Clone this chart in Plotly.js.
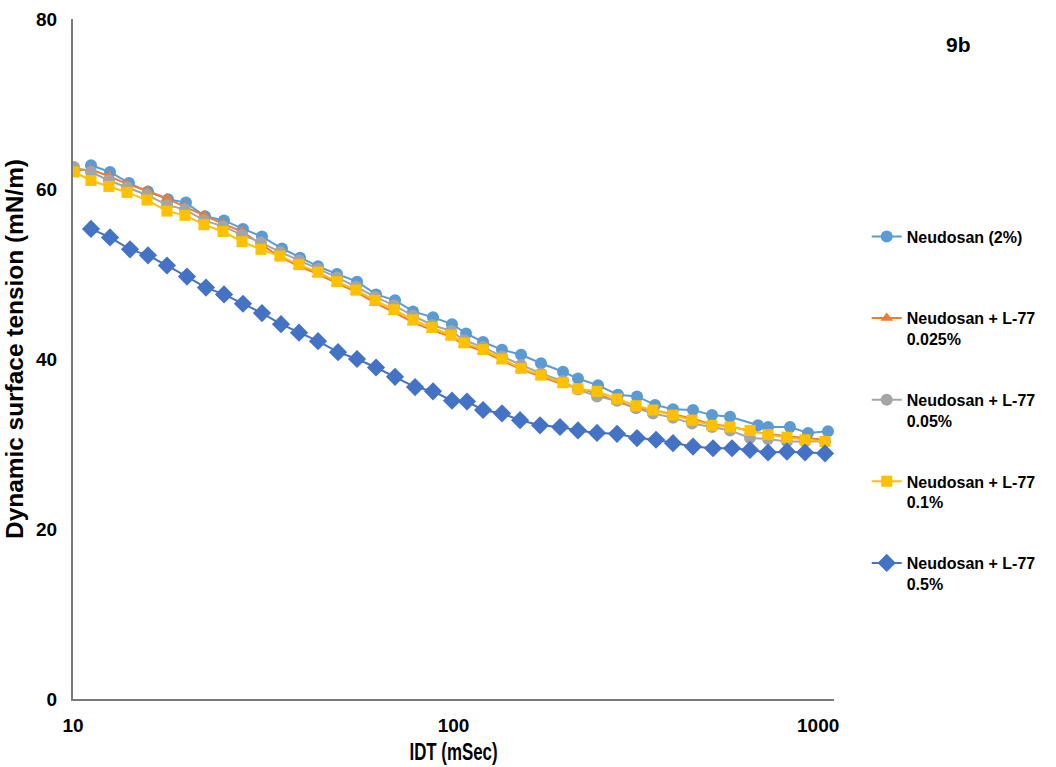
<!DOCTYPE html>
<html>
<head>
<meta charset="utf-8">
<script src="https://cdn.plot.ly/plotly-3.0.1.min.js"></script>
<style>
  html, body { margin: 0; padding: 0; background: #ffffff; }
  #chart { width: 1056px; height: 767px; }
</style>
</head>
<body>
<div id="chart"></div>
<script>
// Dynamic surface tension vs. interface age (IDT), log time axis

// Series names (the first entry keeps a blank second line so every legend row has the same height)
const seriesNames = [
  "Neudosan (2%)<br>\u00a0",
  "Neudosan + L-77<br>0.025%",
  "Neudosan + L-77<br>0.05%",
  "Neudosan + L-77<br>0.1%",
  "Neudosan + L-77<br>0.5%"
];

// IDT (ms) sampling used by the 0.025%, 0.05% and 0.1% runs
const idtShared = [10.06, 11.15, 12.43, 13.86, 15.65, 17.66, 19.69, 22.09, 24.79, 27.81,
  31.19, 35.00, 39.26, 44.05, 49.42, 55.44, 62.20, 69.78, 78.28, 87.82,
  98.50, 106.6, 119.6, 134.1, 150.5, 169.8, 194.0, 212.4, 238.3, 269.0,
  301.8, 334.4, 377.5, 423.5, 478.0, 533.0, 601.5, 670.8, 752.3, 839.2, 947.0];

// IDT (ms) for Neudosan (2%)
const idtNeudosan = [11.15, 12.51, 14.03, 15.74, 17.77, 19.81, 22.23, 24.94, 27.97, 31.38,
  35.42, 39.50, 44.05, 49.42, 55.78, 62.58, 70.21, 78.28, 88.35, 99.10,
  107.9, 119.6, 134.1, 150.5, 169.8, 194.0, 212.4, 239.8, 270.6, 303.6,
  338.5, 377.5, 426.1, 478.0, 533.0, 631.4, 670.8, 766.1, 854.5, 964.3];

// IDT (ms) for the 0.5% run
const idtL77_05 = [11.15, 12.51, 14.12, 15.74, 17.66, 19.93, 22.36, 24.94, 27.97, 31.38,
  35.21, 39.26, 44.05, 49.72, 55.78, 62.58, 70.21, 79.24, 88.35, 99.10,
  108.5, 119.6, 134.1, 149.6, 168.8, 190.5, 212.4, 238.3, 269.0, 303.6,
  340.6, 377.5, 426.1, 480.9, 539.5, 601.5, 670.8, 752.3, 839.2, 947.0];

// Surface tension (mN/m)
const stNeudosan = [62.8, 62.0, 60.7, 59.7, 58.8, 58.4, 56.8, 56.3, 55.3, 54.4,
  53.0, 51.9, 50.9, 50.0, 49.1, 47.6, 46.9, 45.6, 44.9, 44.1,
  43.0, 42.0, 41.1, 40.5, 39.5, 38.5, 37.7, 36.9, 35.8, 35.6,
  34.6, 34.1, 34.0, 33.4, 33.2, 32.2, 32.0, 32.0, 31.3, 31.5];

const stL77_0025 = [62.2, 62.3, 61.5, 60.6, 59.8, 58.9, 57.9, 56.9, 55.9, 55.0,
  53.5, 52.0, 50.9, 50.0, 48.9, 47.9, 46.6, 45.5, 44.3, 43.4,
  42.6, 41.7, 40.9, 39.8, 38.8, 37.9, 37.0, 36.6, 35.9, 35.0,
  34.2, 34.0, 33.5, 33.0, 32.3, 32.1, 31.5, 31.2, 30.9, 30.7, 30.5];

const stL77_005 = [62.6, 62.0, 61.0, 60.2, 59.3, 58.1, 57.6, 56.3, 55.6, 54.6,
  53.7, 52.6, 51.6, 50.6, 49.6, 48.5, 47.3, 46.3, 45.1, 44.0,
  43.3, 42.2, 41.4, 40.3, 39.3, 38.3, 37.4, 36.4, 35.6, 35.1,
  34.2, 33.6, 33.1, 32.4, 32.0, 31.6, 30.7, 30.6, 30.3, 30.3, 30.3];

const stL77_01 = [62.0, 61.0, 60.3, 59.6, 58.7, 57.4, 56.9, 55.8, 55.0, 53.8,
  52.9, 52.1, 51.1, 50.2, 49.1, 48.1, 46.9, 45.8, 44.6, 43.7,
  42.8, 41.9, 41.1, 40.0, 38.9, 38.1, 37.2, 36.5, 36.2, 35.3,
  34.5, 34.0, 33.4, 32.8, 32.2, 32.0, 31.6, 31.1, 30.8, 30.5, 30.3];

const stL77_05 = [55.3, 54.3, 52.9, 52.2, 51.0, 49.7, 48.4, 47.6, 46.5, 45.4,
  44.1, 43.1, 42.1, 40.8, 40.0, 39.0, 37.9, 36.7, 36.2, 35.1,
  35.0, 34.0, 33.6, 32.8, 32.2, 32.0, 31.6, 31.3, 31.2, 30.7,
  30.5, 30.1, 29.7, 29.5, 29.5, 29.3, 29.0, 29.1, 29.0, 28.9];

// Axis ticks (the last x label is nudged inward so it stays inside the plot width)
const yTicks = [0, 20, 40, 60, 80];
const xTicks = [10, 100, 1000];
const xTickText = ["10", "100", "1000\u00a0\u00a0\u00a0\u00a0\u00a0\u00a0"];

const seriesX = [idtNeudosan, idtShared, idtShared, idtShared, idtL77_05];
const seriesY = [stNeudosan, stL77_0025, stL77_005, stL77_01, stL77_05];
const colors = ["#5B9BD5", "#ED7D31", "#A5A5A5", "#FFC000", "#4472C4"];
const symbols = ["circle", "triangle-up", "circle", "square", "diamond"];
const sizes = [12, 11, 12, 11, 14];

const traces = seriesNames.map((name, i) => ({
  type: "scatter",
  mode: "lines+markers",
  name: name,
  x: seriesX[i],
  y: seriesY[i],
  legendgroup: "g" + i,
  line: { color: colors[i], width: 2 },
  marker: { color: colors[i], symbol: symbols[i], size: sizes[i] }
}));

const boldFont = "Liberation Sans, Arial, sans-serif";

const layout = {
  width: 1056,
  height: 767,
  paper_bgcolor: "#ffffff",
  plot_bgcolor: "#ffffff",
  margin: { l: 73, r: 222, t: 19, b: 68, pad: 0 },
  showlegend: true,
  legend: {
    x: 1.043, xanchor: "left",
    y: 0.705, yanchor: "top",
    traceorder: "grouped",
    tracegroupgap: 37,
    valign: "top",
    font: { family: boldFont, size: 16, color: "#000000", weight: "bold" },
    bgcolor: "rgba(0,0,0,0)"
  },
  xaxis: {
    type: "log",
    range: [1, 3],
    tickvals: xTicks,
    ticktext: xTickText,
    showgrid: false,
    zeroline: false,
    showline: true,
    linecolor: "#7a7a7a",
    linewidth: 2,
    ticks: "",
    ticklabelstandoff: 8,
    tickfont: { family: boldFont, size: 19, color: "#000000", weight: "bold" },
    title: { text: "IDT (mSec)", standoff: 8,
             font: { family: boldFont, size: 24, color: "#000000", weight: "bold" } }
  },
  yaxis: {
    range: [0, 80],
    tickvals: yTicks,
    showgrid: false,
    zeroline: false,
    showline: true,
    linecolor: "#7a7a7a",
    linewidth: 2,
    ticks: "",
    ticklabelstandoff: 10,
    tickfont: { family: boldFont, size: 19, color: "#000000", weight: "bold" },
    title: { text: "Dynamic surface tension (mN/m)", standoff: 6,
             font: { family: boldFont, size: 23, color: "#000000", weight: "bold" } }
  },
  annotations: [{
    text: "9b",
    xref: "paper", yref: "paper",
    x: 1.163, y: 0.962,
    xanchor: "center", yanchor: "middle",
    showarrow: false,
    font: { family: boldFont, size: 21, color: "#000000", weight: "bold" }
  }]
};

// Condense an axis title to a narrow face; shift moves it along its baseline
function condense(gd, selector, length, shift) {
  const el = gd.querySelector(selector);
  if (!el) return;
  el.setAttribute("textLength", length);
  el.setAttribute("lengthAdjust", "spacingAndGlyphs");
  if (shift) {
    const x = parseFloat(el.getAttribute("x")) || 0;
    el.setAttribute("x", x + shift);
  }
}

Plotly.newPlot("chart", traces, layout, { displayModeBar: false, staticPlot: true })
  .then(gd => {
    condense(gd, ".xtitle", 88, 0);
    condense(gd, ".ytitle", 380, 10);
  });
</script>
</body>
</html>
